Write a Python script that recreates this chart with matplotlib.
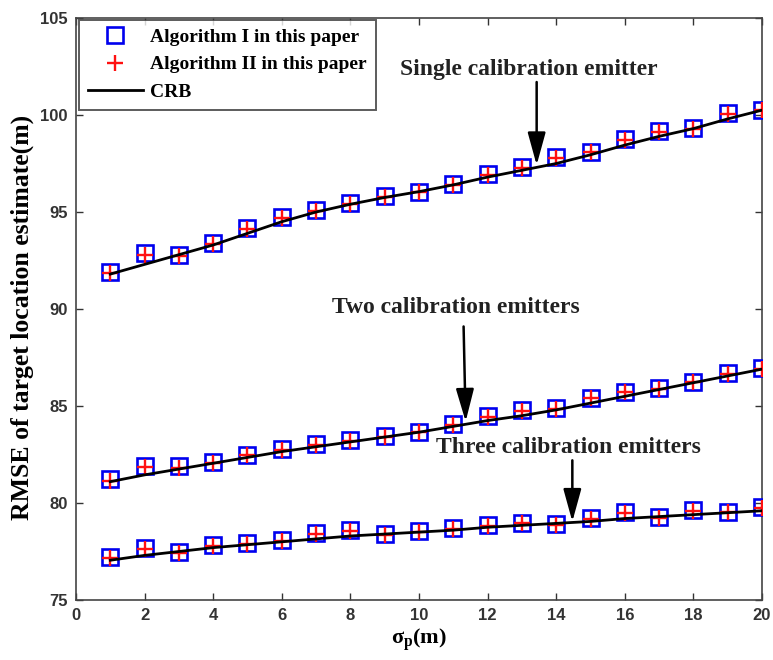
import matplotlib
matplotlib.use("Agg")
import matplotlib.pyplot as plt

x = list(range(1, 21))

single_alg1 = [91.92, 92.87, 92.78, 93.39, 94.16, 94.73, 95.10, 95.45, 95.82, 96.05,
               96.44, 96.96, 97.30, 97.85, 98.11, 98.75, 99.19, 99.31, 100.09, 100.26]
single_alg2 = [91.85, 92.80, 92.75, 93.35, 94.10, 94.68, 95.05, 95.42, 95.78, 96.02,
               96.40, 96.92, 97.26, 97.80, 98.08, 98.70, 99.15, 99.28, 100.05, 100.24]
single_crb = [91.80, 92.30, 92.80, 93.30, 93.90, 94.50, 95.00, 95.40, 95.75, 96.05,
              96.40, 96.80, 97.15, 97.50, 97.95, 98.45, 98.90, 99.30, 99.80, 100.25]

two_alg1 = [81.22, 81.90, 81.90, 82.13, 82.50, 82.77, 83.02, 83.25, 83.45, 83.68,
            84.07, 84.48, 84.79, 84.88, 85.43, 85.74, 85.91, 86.25, 86.68, 86.94]
two_alg2 = [81.15, 81.85, 81.82, 82.08, 82.45, 82.72, 82.98, 83.20, 83.40, 83.64,
            84.02, 84.44, 84.75, 84.85, 85.40, 85.70, 85.88, 86.22, 86.64, 86.92]
two_crb = [81.10, 81.45, 81.75, 82.05, 82.35, 82.65, 82.90, 83.15, 83.40, 83.65,
           83.95, 84.25, 84.50, 84.80, 85.15, 85.50, 85.85, 86.20, 86.55, 86.90]

three_alg1 = [77.23, 77.70, 77.49, 77.84, 77.95, 78.09, 78.44, 78.61, 78.40, 78.55,
              78.69, 78.87, 78.99, 78.92, 79.21, 79.55, 79.29, 79.64, 79.55, 79.78]
three_alg2 = [77.15, 77.65, 77.42, 77.78, 77.90, 78.03, 78.40, 78.56, 78.36, 78.52,
              78.64, 78.82, 78.95, 78.88, 79.17, 79.50, 79.25, 79.60, 79.52, 79.75]
three_crb = [77.05, 77.30, 77.50, 77.70, 77.85, 78.00, 78.15, 78.30, 78.40, 78.50,
             78.60, 78.75, 78.85, 78.95, 79.05, 79.20, 79.30, 79.40, 79.50, 79.60]

legend_labels = ["Algorithm I in this paper", "Algorithm II in this paper", "CRB"]
xticks = [0, 2, 4, 6, 8, 10, 12, 14, 16, 18, 20]
yticks = [75, 80, 85, 90, 95, 100, 105]

serif = ["Liberation Serif", "DejaVu Serif"]
sans = ["Liberation Sans", "DejaVu Sans"]

plt.rcParams["mathtext.fontset"] = "custom"
plt.rcParams["mathtext.rm"] = "Liberation Serif:bold"
plt.rcParams["mathtext.it"] = "Liberation Serif:bold"
plt.rcParams["mathtext.bf"] = "Liberation Serif:bold"

fig = plt.figure(figsize=(7.73, 6.60), dpi=100)
ax = fig.add_axes([0.0983, 0.0909, 0.8875, 0.8818])

first = True
for a1, a2, crb in [(single_alg1, single_alg2, single_crb),
                    (two_alg1, two_alg2, two_crb),
                    (three_alg1, three_alg2, three_crb)]:
    ax.plot(x, a1, linestyle="none", marker="s", markersize=11, markerfacecolor="none",
            markeredgecolor="#0000ee", markeredgewidth=1.9,
            label=legend_labels[0] if first else None, zorder=3)
    ax.plot(x, a2, linestyle="none", marker="+", markersize=11, color="#ff1010",
            markeredgewidth=1.7, label=legend_labels[1] if first else None, zorder=4)
    ax.plot(x, crb, color="black", linewidth=2.0,
            label=legend_labels[2] if first else None, zorder=5)
    first = False

ax.set_xlim(0, 20)
ax.set_ylim(75, 105)
ax.set_xticks(xticks)
ax.set_yticks(yticks)
ax.tick_params(direction="in", length=5, width=1.0, top=True, right=True,
               colors="#333333", labelsize=12, pad=6)
for lab in ax.get_xticklabels() + ax.get_yticklabels():
    lab.set_fontfamily(sans)
    lab.set_fontweight("bold")
    lab.set_color("#333333")
for s in ax.spines.values():
    s.set_color("#444444")
    s.set_linewidth(1.2)

ax.set_ylabel("RMSE of target location estimate(m)", fontfamily=serif,
              fontweight="bold", fontsize=18.5)
ax.yaxis.set_label_coords(-0.061, 0.485)
ax.set_xlabel(r"$\mathrm{\sigma_{p}}$(m)", fontfamily=serif, fontweight="bold",
              fontsize=16, labelpad=2)

leg = ax.legend(loc="upper left", bbox_to_anchor=(0.005, 0.997), borderaxespad=0,
                frameon=True, fancybox=False, edgecolor="#333333", borderpad=0.45,
                labelspacing=0.5, handlelength=2.8, handletextpad=0.4,
                prop={"family": serif, "weight": "bold", "size": 14})
leg.get_frame().set_linewidth(1.4)

arrow_kw = dict(arrowstyle="-|>,head_length=2.0,head_width=0.55", color="black",
                lw=1.8, shrinkA=0, shrinkB=0)
ax.annotate("", xy=(13.43, 97.42), xytext=(13.43, 101.7), arrowprops=arrow_kw)
ax.text(13.2, 102.35, "Single calibration emitter", ha="center", va="center",
        fontfamily=serif, fontweight="bold", fontsize=17, color="#222222")
ax.annotate("", xy=(11.36, 84.2), xytext=(11.3, 89.1), arrowprops=arrow_kw)
ax.text(11.07, 90.1, "Two calibration emitters", ha="center", va="center",
        fontfamily=serif, fontweight="bold", fontsize=17, color="#222222")
ax.annotate("", xy=(14.47, 79.04), xytext=(14.47, 82.2), arrowprops=arrow_kw)
ax.text(14.36, 82.84, "Three calibration emitters", ha="center", va="center",
        fontfamily=serif, fontweight="bold", fontsize=17, color="#222222")

fig.savefig("out.png", dpi=100)
